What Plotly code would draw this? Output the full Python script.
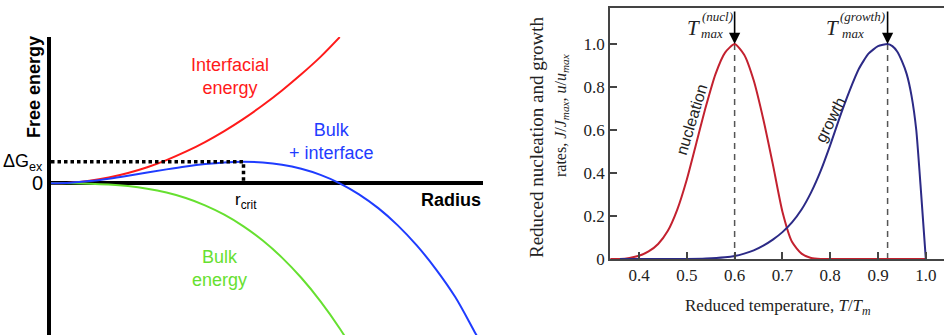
import plotly.graph_objects as go

W, H = 944, 335

# ---------------- Left panel data (schematic free-energy curves) ----------------
radius = [0.0, 0.1, 0.2, 0.3, 0.4, 0.5, 0.6, 0.7, 0.8, 0.9, 1.0, 1.1, 1.2, 1.3, 1.4, 1.5,
          1.6, 1.7, 1.8, 1.9, 2.0, 2.1, 2.2, 2.25]
interfacial_energy = [0.0, 0.03, 0.12, 0.27, 0.48, 0.75, 1.08, 1.47, 1.92, 2.43, 3.0, 3.63,
                      4.32, 5.07, 5.88, 6.8]
bulk_energy = [0.0, -0.002, -0.016, -0.054, -0.128, -0.25, -0.432, -0.686, -1.024, -1.458,
               -2.0, -2.662, -3.456, -4.394, -5.488, -6.75, -8.2]
bulk_plus_interface = [0.0, 0.028, 0.104, 0.216, 0.352, 0.5, 0.648, 0.784, 0.896, 0.972, 1.0,
                       0.968, 0.864, 0.676, 0.392, 0.0, -0.512, -1.156, -1.944, -2.888, -4.0,
                       -5.292, -6.9, -7.7]
r_crit = 1.0
dG_ex = 1.0

# ---------------- Right panel data (reduced rates) ----------------
T_nucl = [0.34, 0.36, 0.38, 0.40, 0.42, 0.44, 0.46, 0.48, 0.50, 0.52, 0.54, 0.56, 0.58, 0.60,
          0.62, 0.64, 0.66, 0.68, 0.70, 0.72, 0.74, 0.76, 0.78, 0.80, 0.90, 1.00]
rate_nucl = [0.0, 0.0, 0.005, 0.015, 0.035, 0.07, 0.13, 0.23, 0.37, 0.54, 0.71, 0.86, 0.96, 1.0,
             0.95, 0.83, 0.65, 0.44, 0.22, 0.08, 0.025, 0.005, 0.0, 0.0, 0.0, 0.0]
T_growth = [0.36, 0.45, 0.50, 0.54, 0.58, 0.60, 0.62, 0.64, 0.66, 0.68, 0.70, 0.72, 0.74, 0.76,
            0.78, 0.80, 0.82, 0.84, 0.86, 0.88, 0.90, 0.92, 0.93, 0.94, 0.95, 0.96, 0.97, 0.98,
            0.99, 1.00]
rate_growth = [0.0, 0.0, 0.0, 0.002, 0.008, 0.014, 0.025, 0.04, 0.062, 0.09, 0.125, 0.17, 0.23,
               0.31, 0.41, 0.53, 0.66, 0.78, 0.885, 0.955, 0.99, 1.0, 0.99, 0.965, 0.92, 0.86,
               0.76, 0.60, 0.31, 0.0]
T_max_nucl = 0.60
T_max_growth = 0.92
x_ticks = [0.4, 0.5, 0.6, 0.7, 0.8, 0.9, 1.0]
x_ticktext = ["0.4", "0.5", "0.6", "0.7", "0.8", "0.9", "1.0"]
y_ticks = [0, 0.2, 0.4, 0.6, 0.8, 1.0]
y_ticktext = ["0", "0.2", "0.4", "0.6", "0.8", "1.0"]


def px(x):
    return x / W


def py(y):
    return 1 - y / H


fig = go.Figure()

# left curves
fig.add_trace(go.Scatter(x=radius[:len(interfacial_energy)], y=interfacial_energy, mode="lines",
                         line=dict(color="#ff1a1a", width=2, shape="spline"),
                         xaxis="x", yaxis="y", hoverinfo="skip"))
fig.add_trace(go.Scatter(x=radius[:len(bulk_energy)], y=bulk_energy, mode="lines",
                         line=dict(color="#66e030", width=2, shape="spline"),
                         xaxis="x", yaxis="y", hoverinfo="skip"))
fig.add_trace(go.Scatter(x=radius, y=bulk_plus_interface, mode="lines",
                         line=dict(color="#1f3cff", width=2, shape="spline"),
                         xaxis="x", yaxis="y", hoverinfo="skip"))
fig.add_trace(go.Scatter(x=[0, r_crit, r_crit], y=[dG_ex, dG_ex, 0], mode="lines",
                         line=dict(color="black", width=3.5, dash="3.5px,3px"),
                         xaxis="x", yaxis="y", hoverinfo="skip"))

# right curves
for T in (T_max_nucl, T_max_growth):
    fig.add_trace(go.Scatter(x=[T, T], y=[0, 1.0], mode="lines",
                             line=dict(color="#555555", width=1.5, dash="6px,5px"),
                             xaxis="x2", yaxis="y2", hoverinfo="skip"))
fig.add_trace(go.Scatter(x=T_nucl, y=rate_nucl, mode="lines",
                         line=dict(color="#c3212f", width=2, shape="spline", smoothing=0.6),
                         xaxis="x2", yaxis="y2", hoverinfo="skip"))
fig.add_trace(go.Scatter(x=T_growth, y=rate_growth, mode="lines",
                         line=dict(color="#2c2a86", width=2, shape="spline", smoothing=0.5),
                         xaxis="x2", yaxis="y2", hoverinfo="skip"))

sans = "Liberation Sans, Arial, sans-serif"
serif = "Liberation Serif, Times New Roman, serif"

ann = []


def label(text, x, y, size, color="black", family=sans, xanchor="center", yanchor="middle",
          angle=0):
    ann.append(dict(text=text, x=px(x), y=py(y), xref="paper", yref="paper", showarrow=False,
                    xanchor=xanchor, yanchor=yanchor, textangle=angle,
                    font=dict(size=size, color=color, family=family)))


# left labels
label("<b>Free energy</b>", 34, 87, 18, angle=-90)
label("<b>Radius</b>", 483, 200, 18, xanchor="right")
label("0", 37, 183, 20)
label("ΔG<sub>ex</sub>", 45, 162, 18, xanchor="right")
label("r<sub>crit</sub>", 246, 201, 17)
label("Interfacial<br>energy", 189, 76, 18, color="#ff1a1a", xanchor="left")
label("Bulk<br>+ interface", 287, 142, 18, color="#1f3cff", xanchor="left")
label("Bulk<br>energy", 190, 268, 18, color="#66e030", xanchor="left")

# right labels
label("Reduced nucleation and growth", 536, 137, 19, color="#222", family=serif, angle=-90)
label("rates, <i>J</i>/<i>J<sub>max</sub></i>, <i>u</i>/<i>u<sub>max</sub></i>", 561, 116, 16,
      color="#222", family=serif, angle=-90)
label("Reduced temperature, <i>T</i>/<i>T<sub>m</sub></i>", 778, 307, 17, color="#222", family=serif)
label("nucleation", 692, 120, 16, color="#222", angle=-73)
label("growth", 831, 120, 16, color="#222", angle=-63)
label("<i>T</i>", 693, 28, 21, color="#222", family=serif)
label("<i>(nucl)</i>", 700, 16, 13, color="#222", family=serif, xanchor="left")
label("<i>max</i>", 699, 33, 13, color="#222", family=serif, xanchor="left")
label("<i>T</i>", 832, 28, 21, color="#222", family=serif)
label("<i>(growth)</i>", 838, 16, 13, color="#222", family=serif, xanchor="left")
label("<i>max</i>", 840, 33, 13, color="#222", family=serif, xanchor="left")

for T in (T_max_nucl, T_max_growth):
    ann.append(dict(x=T, y=1.0, xref="x2", yref="y2", ax=0, ay=-34, text="", showarrow=True,
                    arrowhead=2, arrowsize=1.4, arrowwidth=1.6, arrowcolor="black", standoff=0))

fig.update_layout(
    width=W, height=H, margin=dict(l=0, r=0, t=0, b=0, autoexpand=False),
    paper_bgcolor="white", plot_bgcolor="white", showlegend=False,
    annotations=ann,
    xaxis=dict(domain=[px(51), px(483)], range=[0, 432 / 192.5], showgrid=False, zeroline=False,
               showticklabels=False, ticks="", showline=False, automargin=False),
    yaxis=dict(domain=[0, py(37)], range=[-(335 - 183.3) / 21.5, (183.3 - 37) / 21.5],
               showgrid=False, showticklabels=False, ticks="", automargin=False,
               zeroline=True, zerolinecolor="black", zerolinewidth=3.5,
               showline=True, linecolor="black", linewidth=4),
    xaxis2=dict(domain=[px(610), 1.0], range=[0.3393, 1.038], anchor="y2", showgrid=False,
                zeroline=False, showline=True, linecolor="#444", linewidth=1.5, mirror=True,
                automargin=False,
                tickvals=x_ticks, ticktext=x_ticktext, ticks="inside", ticklen=7, tickwidth=1.5,
                tickcolor="#444", tickfont=dict(family=serif, size=17, color="#222")),
    yaxis2=dict(domain=[py(259), py(8)], range=[0, 251 / 215], anchor="x2", showgrid=False,
                zeroline=False, showline=True, linecolor="#444", linewidth=1.5,
                automargin=False,
                tickvals=y_ticks, ticktext=y_ticktext, ticks="inside", ticklen=7, tickwidth=1.5,
                tickcolor="#444", tickfont=dict(family=serif, size=17, color="#222")),
)

fig.write_html("out.html", config={"displayModeBar": False, "responsive": False},
               post_script="document.body.style.margin='0';document.body.style.overflow='hidden';")
